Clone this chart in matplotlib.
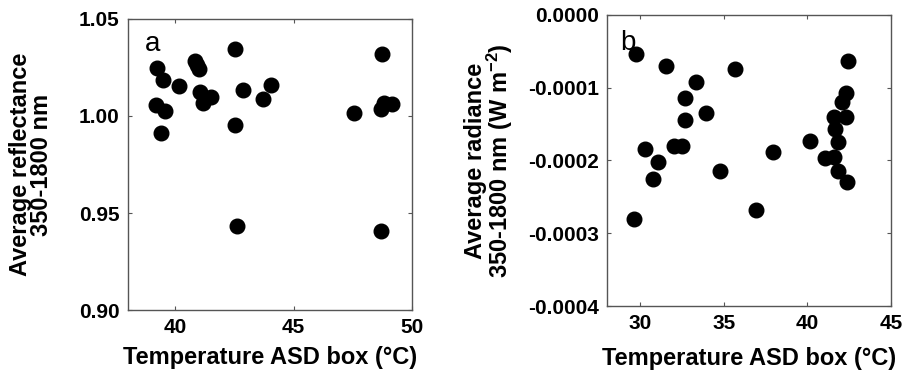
import numpy as np
import matplotlib
matplotlib.use("Agg")
import matplotlib.pyplot as plt

plt.rcParams['font.family'] = ['Liberation Sans', 'DejaVu Sans']
plt.rcParams['font.weight'] = 'bold'
plt.rcParams['axes.labelweight'] = 'bold'
plt.rcParams['mathtext.fontset'] = 'custom'
plt.rcParams['mathtext.bf'] = 'Liberation Sans:bold'
plt.rcParams['mathtext.rm'] = 'Liberation Sans:bold'
plt.rcParams['mathtext.default'] = 'bf'

# panel a: reflectance vs ASD box temperature
temp_a = [39.24, 39.50, 40.17, 39.20, 39.57, 39.39, 40.84, 40.91, 41.00, 41.03,
          41.17, 41.49, 42.53, 42.53, 42.84, 43.71, 44.03, 42.60, 47.56, 48.74,
          48.70, 48.81, 49.17, 48.70]
refl_a = [1.0247, 1.0183, 1.0155, 1.0057, 1.0028, 0.9914, 1.0281, 1.0262, 1.0241, 1.0126,
          1.0069, 1.0100, 1.0345, 0.9952, 1.0134, 1.0088, 1.0159, 0.9431, 1.0017, 1.0321,
          1.0034, 1.0066, 1.0062, 0.9407]

# panel b: radiance vs ASD box temperature
temp_b = [29.71, 31.56, 33.33, 32.69, 33.94, 32.69, 30.27, 32.02, 32.49, 31.08,
          30.76, 34.74, 29.61, 35.69, 37.96, 36.95, 40.13, 42.43, 42.29, 42.08,
          41.58, 42.33, 41.62, 41.82, 41.08, 41.58, 41.82, 42.39]
rad_b = [-0.0000541, -0.0000702, -0.0000927, -0.0001147, -0.0001353, -0.0001445,
         -0.0001844, -0.0001798, -0.0001798, -0.0002018, -0.0002257, -0.0002142,
         -0.0002798, -0.0000743, -0.0001890, -0.0002674, -0.0001734, -0.0000628,
         -0.0001069, -0.0001193, -0.0001408, -0.0001399, -0.0001569, -0.0001752,
         -0.0001972, -0.0001950, -0.0002142, -0.0002294]

fig = plt.figure(figsize=(9.05, 3.71), dpi=100)
ax1 = fig.add_axes([0.1414, 0.1644, 0.3138, 0.7844])
ax2 = fig.add_axes([0.6707, 0.1752, 0.3138, 0.7844])

for ax in (ax1, ax2):
    for s in ax.spines.values():
        s.set_color('#555555')
        s.set_linewidth(1.0)
    ax.tick_params(direction='in', top=True, right=True, length=3,
                   color='#555555', labelsize=15, pad=6)

ax1.plot(temp_a, refl_a, 'o', color='black', markersize=10.5)
ax1.set_xlim(38, 50)
ax1.set_ylim(0.90, 1.05)
ax1.set_xticks([40, 45, 50])
ax1.set_yticks([0.90, 0.95, 1.00, 1.05])
ax1.set_yticklabels(['0.90', '0.95', '1.00', '1.05'])
ax1.set_xlabel('Temperature ASD box (°C)', fontsize=17, fontweight='bold')
ax1.set_ylabel('Average reflectance\n350-1800 nm', fontsize=17, fontweight='bold',
               linespacing=0.9)
ax1.yaxis.set_label_coords(-0.265, 0.5)
ax1.xaxis.set_label_coords(0.5, -0.125)
ax1.text(0.06, 0.915, 'a', transform=ax1.transAxes, fontsize=20,
         fontweight='normal', ha='left', va='center')

ax2.plot(temp_b, rad_b, 'o', color='black', markersize=10.5)
ax2.set_xlim(28, 45)
ax2.set_ylim(-0.0004, 0.0)
ax2.set_xticks([30, 35, 40, 45])
ax2.set_yticks([-0.0004, -0.0003, -0.0002, -0.0001, 0.0])
ax2.set_yticklabels(['-0.0004', '-0.0003', '-0.0002', '-0.0001', '0.0000'])
ax2.set_xlabel('Temperature ASD box (°C)', fontsize=17, fontweight='bold')
ax2.set_ylabel('Average radiance\n350-1800 nm (W m$^{-2}$)', fontsize=17,
               fontweight='bold', linespacing=0.9)
ax2.yaxis.set_label_coords(-0.325, 0.5)
ax2.xaxis.set_label_coords(0.5, -0.14)
ax2.text(0.045, 0.905, 'b', transform=ax2.transAxes, fontsize=20,
         fontweight='normal', ha='left', va='center')

fig.savefig('out.png', dpi=100)
